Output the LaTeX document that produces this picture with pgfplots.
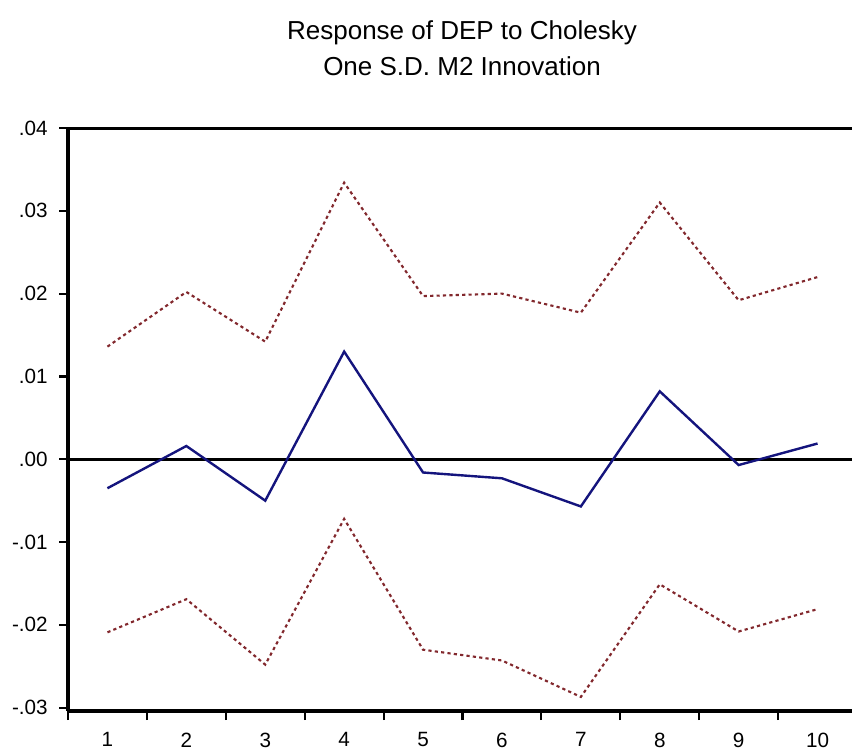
\documentclass[border=0pt]{standalone}
\usepackage{fontspec}
\setmainfont{Liberation Sans}
\usepackage{pgfplots}
\pgfplotsset{compat=1.18}
\definecolor{irfblue}{RGB}{20,20,125}
\definecolor{irfred}{RGB}{130,40,45}
\begin{document}
\begin{tikzpicture}[x=1pt,y=1pt]
\begin{axis}[
  at={(51pt,29.25pt)}, anchor=south west,
  scale only axis, width=591.75pt, height=437.25pt,
  xmin=0.5, xmax=10.5,
  ymin=-0.0304, ymax=0.04,
  axis x line*=bottom, axis y line*=left,
  axis line style={line width=2.6pt},
  tick align=outside,
  major tick length=6.75pt,
  minor tick length=6.75pt,
  every tick/.style={black, line width=1.6pt},
  xtick={1,2,3,4,5,6,7,8,9,10},
  major x tick style={draw=none},
  minor xtick={0.5,1.5,2.5,3.5,4.5,5.5,6.5,7.5,8.5,9.5},
  minor x tick style={black, line width=1.6pt},
  scaled y ticks=false,
  ytick={-0.03,-0.02,-0.01,0,0.01,0.02,0.03,0.04},
  yticklabels={-.03,-.02,-.01,.00,.01,.02,.03,.04},
  xticklabels={1,2,3,4,5,6,7,8,9,10},
  /pgf/number format/assume math mode=true,
  ticklabel style={font=\fontsize{15.5}{18}\selectfont},
  yticklabel style={xshift=-5pt},
  xticklabel style={yshift=-6pt},
  clip=true,
]
\draw[black, line width=2.2pt] (axis cs:0.5,0) -- (axis cs:10.5,0);
\addplot[irfred, line width=1.6pt, dash pattern=on 2.4pt off 2.4pt] coordinates {
 (1,0.0136) (2,0.0202) (3,0.0142) (4,0.0334) (5,0.0197)
 (6,0.0200) (7,0.0177) (8,0.0310) (9,0.0192) (10,0.0220)};
\addplot[irfred, line width=1.6pt, dash pattern=on 2.4pt off 2.4pt] coordinates {
 (1,-0.0209) (2,-0.0169) (3,-0.0248) (4,-0.0072) (5,-0.0230)
 (6,-0.0243) (7,-0.0287) (8,-0.0151) (9,-0.0208) (10,-0.0181)};
\addplot[irfblue, line width=1.8pt] coordinates {
 (1,-0.0035) (2,0.0016) (3,-0.0050) (4,0.0130) (5,-0.0016)
 (6,-0.0023) (7,-0.0057) (8,0.0082) (9,-0.0007) (10,0.0019)};
\draw[black, line width=2.6pt] (rel axis cs:0,1) -- (rel axis cs:1,1);
\draw[black, line width=1.6pt] (rel axis cs:0,1) -- ++(-6.75pt,0);
\end{axis}
\node[font=\fontsize{19.5}{22}\selectfont, anchor=base] at (346.5pt,533pt) {Response of DEP to Cholesky};
\node[font=\fontsize{19.5}{22}\selectfont, anchor=base] at (346.5pt,505.5pt) {One S.D. M2 Innovation};
\pgfresetboundingbox
\useasboundingbox (0pt,0pt) rectangle (639pt,562.5pt);
\end{tikzpicture}
\end{document}
